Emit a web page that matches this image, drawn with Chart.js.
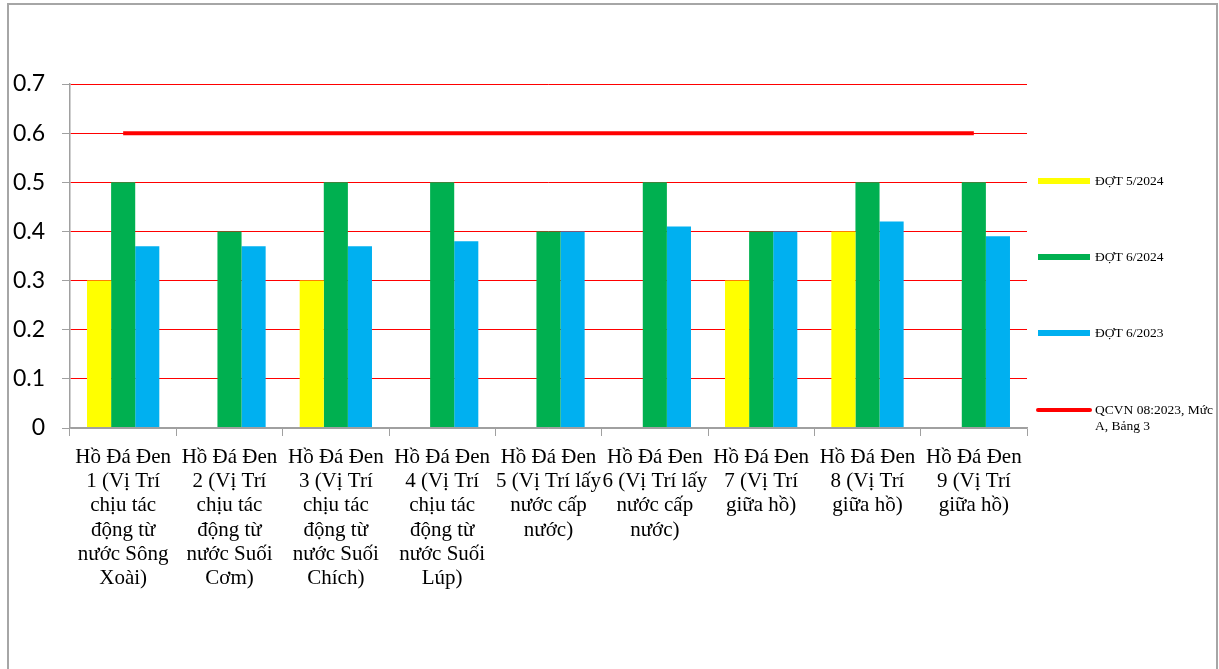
<!DOCTYPE html>
<html>
<head>
<meta charset="utf-8">
<script src="https://cdn.jsdelivr.net/npm/chart.js@4.4.1/dist/chart.umd.min.js"></script>
<style>
  html, body { margin: 0; padding: 0; background: #fff; overflow: hidden; }
  #frame {
    position: absolute; left: 7px; top: 3px; width: 1211px; height: 720px;
    border: 2px solid #a6a6a6; box-sizing: border-box;
  }
  #wrap { position: absolute; left: 0; top: 0; width: 1219px; height: 669px; }
</style>
</head>
<body>
<div id="frame"></div>
<div id="wrap"><canvas id="chart" width="1219" height="669"></canvas></div>
<script>
/* === Data === */
const stations = [
  ["Hồ Đá Đen", "1 (Vị Trí", "chịu tác", "động từ", "nước Sông", "Xoài)"],
  ["Hồ Đá Đen", "2 (Vị Trí", "chịu tác", "động từ", "nước Suối", "Cơm)"],
  ["Hồ Đá Đen", "3 (Vị Trí", "chịu tác", "động từ", "nước Suối", "Chích)"],
  ["Hồ Đá Đen", "4 (Vị Trí", "chịu tác", "động từ", "nước Suối", "Lúp)"],
  ["Hồ Đá Đen", "5 (Vị Trí lấy", "nước cấp", "nước)"],
  ["Hồ Đá Đen", "6 (Vị Trí lấy", "nước cấp", "nước)"],
  ["Hồ Đá Đen", "7 (Vị Trí", "giữa hồ)"],
  ["Hồ Đá Đen", "8 (Vị Trí", "giữa hồ)"],
  ["Hồ Đá Đen", "9 (Vị Trí", "giữa hồ)"]
];
const dot5_2024 = [0.3, null, 0.3, null, null, null, 0.3, 0.4, null];
const dot6_2024 = [0.5, 0.4, 0.5, 0.5, 0.4, 0.5, 0.4, 0.5, 0.5];
const dot6_2023 = [0.37, 0.37, 0.37, 0.38, 0.40, 0.41, 0.40, 0.42, 0.39];
const qcvn      = [0.6, 0.6, 0.6, 0.6, 0.6, 0.6, 0.6, 0.6, 0.6];
const seriesNames = ["ĐỢT 5/2024", "ĐỢT 6/2024", "ĐỢT 6/2023", "QCVN 08:2023, Mức A, Bảng 3"];

/* === Legend drawn on the right side === */
const sideLegend = {
  id: 'sideLegend',
  afterDraw(chart) {
    const c = chart.ctx;
    const rows = [181, 257, 333, 410];
    c.save();
    c.font = '13.5px "Liberation Serif", "Times New Roman", serif';
    c.textBaseline = 'middle';
    chart.data.datasets.forEach((ds, i) => {
      const y = rows[i];
      c.strokeStyle = ds.borderColor;
      c.lineWidth = ds.type === 'line' ? 4 : 6;
      c.lineCap = ds.type === 'line' ? 'round' : 'butt';
      c.beginPath();
      c.moveTo(1038, y);
      c.lineTo(1090, y);
      c.stroke();

      // wrap long names
      c.fillStyle = '#000';
      const words = ds.label.split(' ');
      let line = '', ly = y;
      words.forEach(w => {
        const test = line ? line + ' ' + w : w;
        if (c.measureText(test).width > 122 && line) {
          c.fillText(line, 1095, ly);
          line = w;
          ly += 16;
        } else line = test;
      });
      c.fillText(line, 1095, ly);
    });
    c.restore();
  }
};

/* === Chart === */
new Chart(document.getElementById('chart'), {
  type: 'bar',
  data: {
    labels: stations,
    datasets: [
      { label: seriesNames[0], data: dot5_2024, backgroundColor: '#FFFF00', borderColor: '#FFFF00' },
      { label: seriesNames[1], data: dot6_2024, backgroundColor: '#00B050', borderColor: '#00B050' },
      { label: seriesNames[2], data: dot6_2023, backgroundColor: '#00B0F0', borderColor: '#00B0F0' },
      { type: 'line', label: seriesNames[3], data: qcvn, borderColor: '#FF0000',
        borderWidth: 4, pointRadius: 0, fill: false, order: -1 }
    ]
  },
  options: {
    responsive: false,
    animation: false,
    devicePixelRatio: 1,
    layout: { padding: { top: 84, right: 192, left: 0, bottom: 0 } },
    datasets: { bar: { barPercentage: 1, categoryPercentage: 0.68 } },
    plugins: { legend: { display: false }, tooltip: { enabled: false } },
    scales: {
      x: {
        grid: { offset: true, drawOnChartArea: false, drawTicks: true, tickLength: 8, tickColor: '#a0a0a0' },
        border: { color: '#a0a0a0', width: 1.5, z: 1 },
        ticks: {
          color: '#000', maxRotation: 0, autoSkip: false, padding: 9,
          font: { family: '"Liberation Serif", "Times New Roman", serif', size: 21, lineHeight: 1.16 }
        },
        afterFit(s) { s.height = 669 - 428; }
      },
      y: {
        min: 0, max: 0.7,
        grid: {
          color: c => c.tick && c.tick.value === 0 ? '#a0a0a0' : '#FF0000',
          lineWidth: 1, tickLength: 8, tickColor: '#a0a0a0'
        },
        border: { color: '#a0a0a0', width: 1.5 },
        ticks: {
          stepSize: 0.1, color: '#000', padding: 17,
          font: { family: 'Lato, "Open Sans", sans-serif', size: 23 },
          callback: v => v === 0 ? '0' : v.toFixed(1)
        },
        afterFit(s) { s.width = 70; }
      }
    }
  },
  plugins: [sideLegend]
});
</script>
</body>
</html>
